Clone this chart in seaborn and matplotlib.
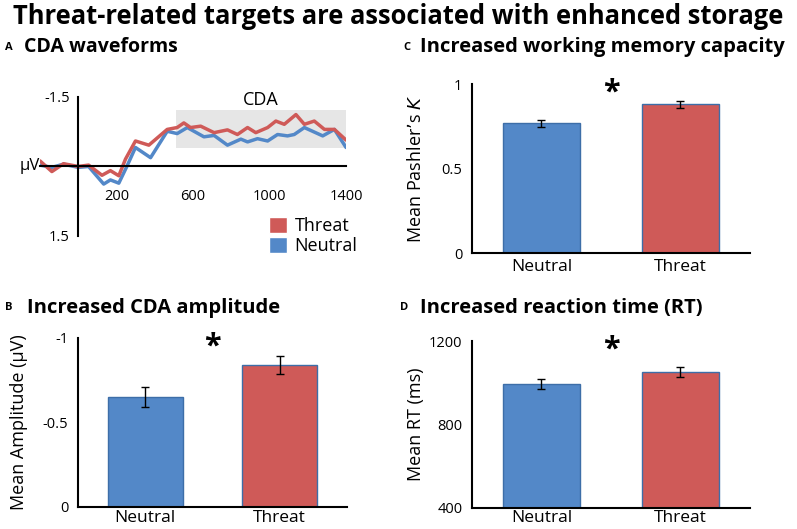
import matplotlib
matplotlib.use('Agg')
import matplotlib.pyplot as plt
from matplotlib.patches import Patch, Rectangle
import pandas as pd
import seaborn as sns

# colours
threat_col = '#CF5A58'
neutral_col = '#5388C8'

# panel A: CDA waveforms (ms, microvolts; negative is up)
time_threat = [-200, -138, -77, 0, 54, 124, 168, 212, 247, 299, 369, 465, 517, 552, 587, 640,
               710, 780, 832, 885, 928, 990, 1033, 1077, 1138, 1182, 1234, 1287, 1339, 1400]
amp_threat = [-0.12, 0.11, -0.06, 0.0, -0.03, 0.19, 0.09, 0.20, -0.16, -0.55, -0.46, -0.80, -0.84,
              -0.94, -0.84, -0.87, -0.73, -0.79, -0.69, -0.84, -0.73, -0.84, -0.98, -0.91, -1.12,
              -0.91, -0.98, -0.80, -0.80, -0.57]
time_neutral = [-200, -138, -77, 0, 54, 133, 168, 212, 255, 299, 378, 465, 517, 570, 657, 710,
                780, 850, 885, 937, 990, 1042, 1094, 1129, 1182, 1278, 1339, 1400]
amp_neutral = [-0.03, 0.02, -0.05, 0.02, 0.0, 0.38, 0.29, 0.36, -0.01, -0.41, -0.19, -0.76, -0.71,
               -0.84, -0.64, -0.67, -0.46, -0.59, -0.53, -0.60, -0.55, -0.69, -0.66, -0.69, -0.84,
               -0.66, -0.80, -0.41]

# bar panels
conditions = ['Neutral', 'Threat']
cda_amp = [-0.65, -0.84]
cda_err = [0.057, 0.056]
pashler_k = [0.767, 0.88]
pashler_err = [0.02, 0.02]
rt_mean = [995, 1050]
rt_err = [24, 24]

sns.set_style('white')
plt.rcParams['font.family'] = ['Open Sans', 'DejaVu Sans']
plt.rcParams['text.color'] = 'black'
plt.rcParams['axes.labelcolor'] = 'black'
plt.rcParams['xtick.color'] = 'black'
plt.rcParams['ytick.color'] = 'black'

fig = plt.figure(figsize=(7.97, 5.29), dpi=100)

# titles
fig.text(0.5, 0.968, 'Threat-related targets are associated with enhanced storage',
         ha='center', va='center', fontsize=18.4, fontweight='bold')
fig.text(0.006, 0.911, 'A', fontsize=8, fontweight='bold', va='center')
fig.text(0.03, 0.911, 'CDA waveforms', fontsize=14, fontweight='bold', va='center')
fig.text(0.506, 0.911, 'C', fontsize=8, fontweight='bold', va='center')
fig.text(0.527, 0.911, 'Increased working memory capacity', fontsize=14.5, fontweight='bold',
         va='center')
fig.text(0.006, 0.418, 'B', fontsize=8, fontweight='bold', va='center')
fig.text(0.034, 0.418, 'Increased CDA amplitude', fontsize=14.5, fontweight='bold', va='center')
fig.text(0.502, 0.418, 'D', fontsize=8, fontweight='bold', va='center')
fig.text(0.527, 0.418, 'Increased reaction time (RT)', fontsize=14.5, fontweight='bold',
         va='center')

# ---- panel A
axA = fig.add_axes([0.0502, 0.5539, 0.384, 0.2628])
axA.add_patch(Rectangle((513, -1.22), 887, 0.83, facecolor='#E6E6E6', edgecolor='none', zorder=0))
wave = pd.concat([
    pd.DataFrame({'time': time_neutral, 'amp': amp_neutral, 'cond': 'Neutral'}),
    pd.DataFrame({'time': time_threat, 'amp': amp_threat, 'cond': 'Threat'}),
])
sns.lineplot(data=wave, x='time', y='amp', hue='cond', palette={'Neutral': neutral_col, 'Threat': threat_col},
             linewidth=2.5, legend=False, ax=axA)
axA.set_xlim(-200, 1400)
axA.set_ylim(1.5, -1.5)
axA.spines['left'].set_position(('data', 0))
axA.spines['bottom'].set_position(('data', 0))
for s in ['top', 'right']:
    axA.spines[s].set_visible(False)
for s in ['left', 'bottom']:
    axA.spines[s].set_linewidth(1.5)
    axA.spines[s].set_color('black')
axA.set_xticks([200, 400, 600, 800, 1000, 1200, 1400])
axA.set_xticklabels(['200', '', '600', '', '1000', '', '1400'])
axA.set_yticks([-1.5, 1.5])
axA.set_yticklabels(['-1.5', '1.5'])
axA.tick_params(axis='x', direction='out', length=4, width=1.5, pad=12, labelsize=10.5)
axA.tick_params(axis='y', direction='out', length=4, width=1.5, pad=2, labelsize=10.5)
axA.set_xlabel('')
axA.set_ylabel('')
axA.text(-200, 0, 'µV', ha='right', va='center', fontsize=12)
axA.text(954, -1.43, 'CDA', ha='center', va='center', fontsize=13)
handles = [Patch(facecolor=threat_col, label='Threat'), Patch(facecolor=neutral_col, label='Neutral')]
fig.legend(handles=handles, loc='upper left', bbox_to_anchor=(0.338, 0.59), frameon=False,
           fontsize=13, handlelength=1.0, handleheight=1.0, handletextpad=0.4, labelspacing=0.1,
           borderaxespad=0, borderpad=0)


def bar_panel(ax, vals, errs, lab_off):
    df = pd.DataFrame({'cond': conditions, 'val': vals})
    sns.barplot(data=df, x='cond', y='val', hue='cond', palette=[neutral_col, threat_col], saturation=1,
                width=0.56, edgecolor=['#3D6EA8', '#A84543'], linewidth=1, legend=False, ax=ax)
    ax.errorbar([0, 1], vals, yerr=errs, fmt='none', ecolor='black', elinewidth=1, capsize=3, capthick=1)
    ax.set_xlim(-0.5, 1.5)
    ax.set_xlabel('')
    ax.set_xticks([0.5])
    ax.set_xticklabels([''])
    for i, c in enumerate(conditions):
        ax.text(i, lab_off, c, transform=ax.get_xaxis_transform(), ha='center', va='top', fontsize=12.5)
    for s in ['top', 'right']:
        ax.spines[s].set_visible(False)
    for s in ['left', 'bottom']:
        ax.spines[s].set_linewidth(1.5)
        ax.spines[s].set_color('black')
    ax.tick_params(axis='both', direction='out', length=5, width=1.5, pad=2, labelsize=10.5)
    ax.text(0.5, 0.95, '*', transform=ax.transAxes, ha='center', va='center', fontsize=22, fontweight='bold')


# ---- panel B
axB = fig.add_axes([0.0979, 0.0416, 0.3375, 0.3195])
bar_panel(axB, cda_amp, cda_err, -0.015)
axB.set_ylim(0, -1)
axB.set_yticks([-1, -0.5, 0])
axB.set_yticklabels(['-1', '-0.5', '0'])
axB.set_ylabel('Mean Amplitude (µV)', fontsize=13)
axB.yaxis.set_label_coords(-0.186, 0.5)

# ---- panel C
axC = fig.add_axes([0.5922, 0.5217, 0.3488, 0.3195])
bar_panel(axC, pashler_k, pashler_err, -0.035)
axC.set_ylim(0, 1)
axC.set_yticks([0, 0.5, 1])
axC.set_yticklabels(['0', '0.5', '1'])
axC.set_ylabel('Mean Pashler\u2019s $\\it{K}$', fontsize=13)
axC.yaxis.set_label_coords(-0.169, 0.5)

# ---- panel D
axD = fig.add_axes([0.5922, 0.0403, 0.3488, 0.315])
bar_panel(axD, rt_mean, rt_err, -0.015)
axD.set_ylim(400, 1200)
axD.set_yticks([400, 800, 1200])
axD.set_ylabel('Mean RT (ms)', fontsize=13)
axD.yaxis.set_label_coords(-0.169, 0.5)

fig.savefig('out.png', dpi=100)
